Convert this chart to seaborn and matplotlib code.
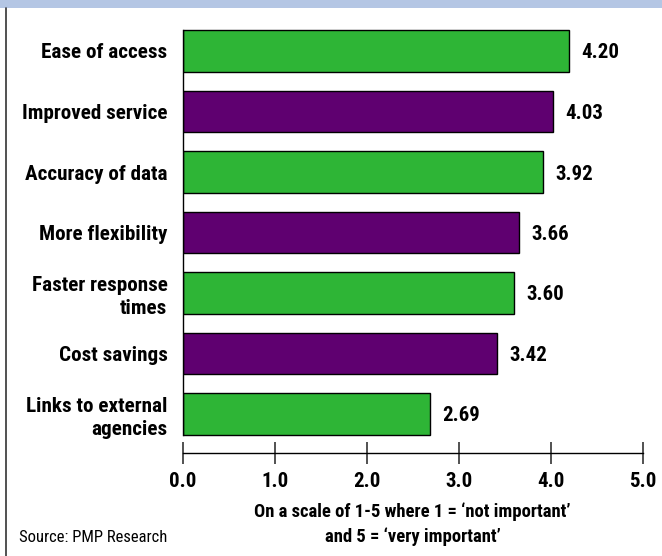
import matplotlib
matplotlib.use("Agg")
import matplotlib.pyplot as plt
import seaborn as sns
import pandas as pd
from matplotlib.patches import Rectangle
from matplotlib.lines import Line2D

categories = [
    "Ease of access",
    "Improved service",
    "Accuracy of data",
    "More flexibility",
    "Faster response\ntimes",
    "Cost savings",
    "Links to external\nagencies",
]
scores = [4.20, 4.03, 3.92, 3.66, 3.60, 3.42, 2.69]
groups = ["a", "b", "a", "b", "a", "b", "a"]
x_ticks = [0.0, 1.0, 2.0, 3.0, 4.0, 5.0]
x_label = "On a scale of 1-5 where 1 = \u2018not important\u2019\nand 5 = \u2018very important\u2019"
source = "Source: PMP Research"

GREEN = "#2eb536"
PURPLE = "#5f0070"
HEADER = "#b4c6e4"

sns.set_theme(style="white")
plt.rcParams["font.family"] = ["Roboto Condensed", "Archivo Narrow", "DejaVu Sans"]

W, H = 662, 556
fig = plt.figure(figsize=(W / 100, H / 100), dpi=100)

def fx(px):
    return px / W

def fy(py):
    return 1 - py / H

# axes frame in pixel units
x0_px, x5_px = 182.7, 642.7
top_px, bot_px = 10, 470
ax = fig.add_axes([fx(x0_px), fy(bot_px), fx(x5_px - x0_px), (bot_px - top_px) / H])

df = pd.DataFrame({"label": categories, "score": scores, "group": groups})
sns.barplot(
    data=df, x="score", y="label", hue="group", orient="h",
    palette={"a": GREEN, "b": PURPLE}, saturation=1, width=0.69, dodge=False,
    edgecolor="black", linewidth=1.0, legend=False, ax=ax,
)

# category spacing: first bar centre at y=51 px, last at y=414 px
step = (414 - 51) / 6
ax.set_ylim(6 + (bot_px - 414) / step, -(51 - top_px) / step)
ax.set_xlim(0, 5)

for spine in ["top", "right"]:
    ax.spines[spine].set_visible(False)
ax.spines["left"].set_bounds(-0.345, 6.345)
ax.spines["left"].set_color("black")
ax.spines["left"].set_linewidth(1.0)
ax.spines["bottom"].set_position(("data", 6 + (453 - 414) / step))
ax.spines["bottom"].set_bounds(0, 5)
ax.spines["bottom"].set_color("black")
ax.spines["bottom"].set_linewidth(1.0)

ax.set_xticks(x_ticks)
ax.set_xticklabels([f"{t:.1f}" for t in x_ticks], fontweight="bold", fontsize=15)
ax.tick_params(axis="x", direction="inout", length=16, width=1.2, color="#333333",
               pad=6, bottom=True)
ax.tick_params(axis="y", length=0, pad=11)
for lab in ax.get_yticklabels():
    lab.set_fontweight("bold")
    lab.set_fontsize(15.2)
    lab.set_multialignment("right")
    lab.set_linespacing(1.3)
    lab.set_color("black")
for lab in ax.get_xticklabels():
    lab.set_color("black")
ax.set_xlabel("")
ax.set_ylabel("")

for i, v in enumerate(scores):
    ax.text(v + 12 / 92, i, f"{v:.2f}", va="center_baseline", ha="left",
            fontsize=15, fontweight="bold", color="black")

fig.text(fx(412.7), fy(524), x_label, ha="center", va="center",
         fontsize=13.4, fontweight="bold", linespacing=1.4, color="black")
fig.text(fx(19), fy(537), source, ha="left", va="center", fontsize=12, color="black")

# header band and left frame line
fig.patches.append(Rectangle((0, fy(8)), 1, 8 / H, transform=fig.transFigure,
                             facecolor=HEADER, edgecolor="none"))
fig.lines.append(Line2D([fx(6), fx(6)], [0, fy(8)], transform=fig.transFigure,
                        color="#333333", linewidth=1.2))

fig.savefig("out.png", dpi=100)
